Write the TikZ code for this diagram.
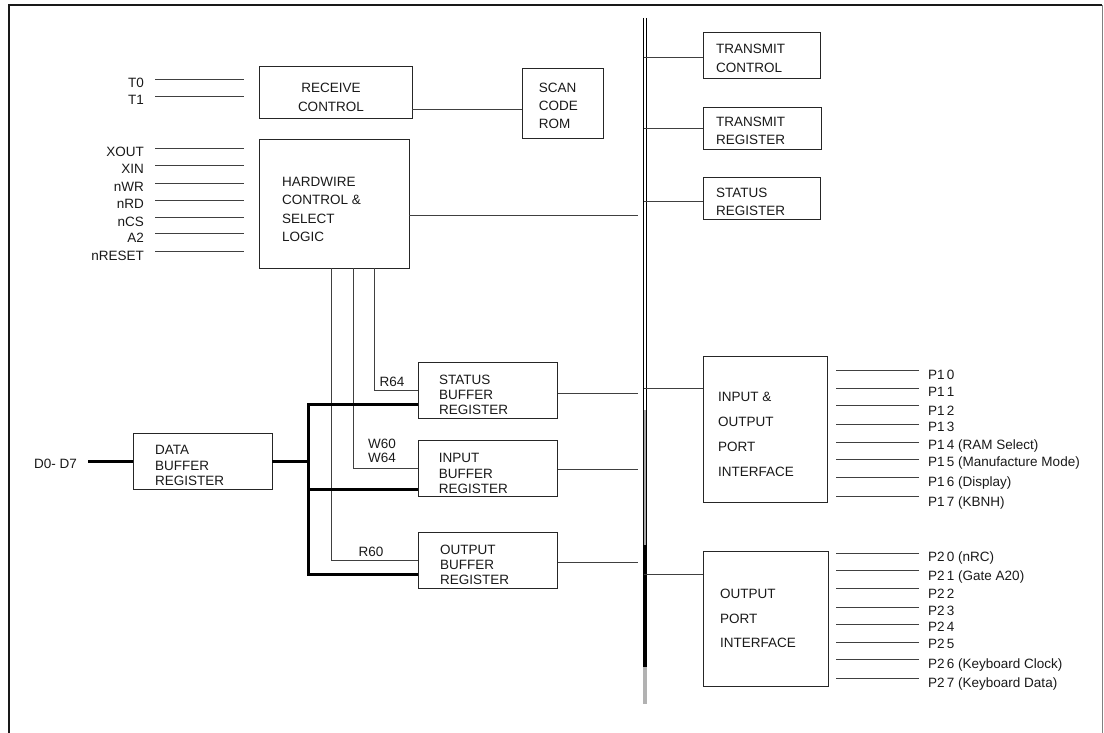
\documentclass[tikz,border=0pt]{standalone}
\usepackage{fontspec}
\setmainfont{Liberation Sans}

\begin{document}
\begin{tikzpicture}[x=1pt,y=-1pt,
  box/.style={draw=black!85,line width=0.8pt,inner sep=0pt},
  txt/.style={inner sep=0pt,align=left,anchor=west,text=black!90},
  lbl/.style={inner sep=0pt,text=black!90},
  wire/.style={draw=black!75,line width=0.8pt},
  dbusw/.style={line width=3pt,line join=miter},
  font=\fontsize{13.5}{15}\selectfont]
  \useasboundingbox (0,0) rectangle (1104,733);
  \draw[line width=1.6pt,black!90] (9,733) -- (9,5) -- (1102,5);
  \draw[line width=0.8pt,gray] (1102,5) -- (1102,733);

  \node[box,minimum width=153,minimum height=52] (recv) at (335.5,92) {};
  \node[box,minimum width=81,minimum height=70] (scan) at (562.5,103) {};
  \node[box,minimum width=150,minimum height=129] (hw) at (334,203.5) {};
  \node[box,minimum width=117,minimum height=46] (tctl) at (761.5,55) {};
  \node[box,minimum width=118,minimum height=42] (treg) at (762,128) {};
  \node[box,minimum width=117,minimum height=42] (sreg) at (761.5,198) {};
  \node[box,minimum width=138.4,minimum height=56] (sbuf) at (488,390) {};
  \node[box,minimum width=138.4,minimum height=56] (ibuf) at (488,468) {};
  \node[box,minimum width=138.4,minimum height=56] (obuf) at (488,560) {};
  \node[box,minimum width=139,minimum height=56] (dbuf) at (202.5,461) {};
  \node[box,minimum width=124,minimum height=146] (iop) at (765,429) {};
  \node[box,minimum width=125,minimum height=135] (op) at (765.5,618.5) {};

  \node[txt,align=center,anchor=center,font=\fontsize{13.5}{18.5}\selectfont] (recvtxt) at (331,97.5) {RECEIVE\\CONTROL};
  \node[txt,font=\fontsize{13.5}{18}\selectfont] (scantxt) at (538.6,106) {SCAN\\CODE\\ROM};
  \node[txt,font=\fontsize{13.5}{18.5}\selectfont] (hwtxt) at (282,209.5) {HARDWIRE\\CONTROL \&\\SELECT\\LOGIC};
  \node[txt,font=\fontsize{13.5}{19}\selectfont] (tctltxt) at (716,58.5) {TRANSMIT\\CONTROL};
  \node[txt,font=\fontsize{13.5}{18}\selectfont] (tregtxt) at (716,131) {TRANSMIT\\REGISTER};
  \node[txt,font=\fontsize{13.5}{18}\selectfont] (sregtxt) at (716,202) {STATUS\\REGISTER};
  \node[txt] (sbuftxt) at (439,395) {STATUS\\BUFFER\\REGISTER};
  \node[txt,font=\fontsize{13.5}{15.5}\selectfont] (ibuftxt) at (438.6,473.5) {INPUT\\BUFFER\\REGISTER};
  \node[txt] (obuftxt) at (440,565) {OUTPUT\\BUFFER\\REGISTER};
  \node[txt,font=\fontsize{13.5}{15.5}\selectfont] (dbuftxt) at (155,465.5) {DATA\\BUFFER\\REGISTER};
  \node[txt,font=\fontsize{13.5}{25}\selectfont] (ioptxt) at (718,434.5) {INPUT \&\\OUTPUT\\PORT\\INTERFACE};
  \node[txt,font=\fontsize{13.5}{24.5}\selectfont] (optxt) at (720,618.5) {OUTPUT\\PORT\\INTERFACE};

  \node[lbl] (r64) at (392,382) {R64};
  \node[lbl,align=center,font=\fontsize{13.5}{14}\selectfont] (w60) at (382,451) {W60\\W64};
  \node[lbl] (r60) at (371,552) {R60};
  \node[lbl] (d07) at (55.6,464) {D0- D7};

  \foreach \n/\y in {T0/79,T1/96,XOUT/148,XIN/165,nWR/183,nRD/200,nCS/217,A2/233,nRESET/251}{
    \node[lbl,anchor=base east] (\n) at (144,\y+9) {\n};
    \draw[wire] (\n.base east) ++(11,-9) -- ++(89,0);
  }
  \foreach \n/\t/\ly/\y in {p10/{P1\,0}/375/370,p11/{P1\,1}/392/388,p12/{P1\,2}/411/405,
      p13/{P1\,3}/427/424,p14/{P1\,4 (RAM Select)}/445/442,p15/{P1\,5 (Manufacture Mode)}/462/459,
      p16/{P1\,6 (Display)}/482/477,p17/{P1\,7 (KBNH)}/502/496,
      p20/{P2\,0 (nRC)}/557/553,p21/{P2\,1 (Gate A20)}/576/570,p22/{P2\,2}/594/588,
      p23/{P2\,3}/611/607,p24/{P2\,4}/627/624,p25/{P2\,5}/644/642,
      p26/{P2\,6 (Keyboard Clock)}/664/659,p27/{P2\,7 (Keyboard Data)}/683/678}{
    \node[lbl,anchor=base west] (\n) at (928,\ly+4.8) {\t};
    \draw[wire] (\n.base west) ++(-9,\y-\ly-4.8) -- ++(-83,0);
  }

  \coordinate (busL) at (638,0);
  \coordinate (bus) at (644,0);
  \coordinate (dbus) at (308,0);

  \draw[line width=0.8pt] (643.5,18) -- (643.5,704);
  \draw[line width=0.8pt] (646,18) -- (646,704);
  \fill[gray!70] (643.5,410) rectangle (646,545);
  \fill (642.5,545) rectangle (647,667);
  \fill[gray!60] (642.5,667) rectangle (647,704);

  \draw[wire] (recv.east |- 0,109) -- (scan.west |- 0,109);
  \draw[wire] (hw.east |- 0,215) -- (busL |- 0,215);
  \foreach \b/\y in {sbuf/393,ibuf/469,obuf/562}
    \draw[wire] (\b.east |- 0,\y) -- (busL |- 0,\y);
  \foreach \b/\y in {tctl/57,treg/128,sreg/201,iop/388,op/574}
    \draw[wire] (bus |- 0,\y) -- (\b.west |- 0,\y);

  \draw[wire] (hw.south -| 374,0) |- (sbuf.west);
  \draw[wire] (hw.south -| 353,0) |- (ibuf.west);
  \draw[wire] (hw.south -| 331,0) |- (obuf.west);

  \draw[dbusw] ([xshift=11pt]d07.east |- dbuf.west) -- (dbuf.west);
  \draw[dbusw] (dbuf.east) -- (dbus |- dbuf.east);
  \draw[dbusw] (sbuf.west |- 0,404) -| (dbus |- 0,574) -- (obuf.west |- 0,574);
  \draw[dbusw] (dbus |- 0,489) -- (ibuf.west |- 0,489);
\end{tikzpicture}
\end{document}
